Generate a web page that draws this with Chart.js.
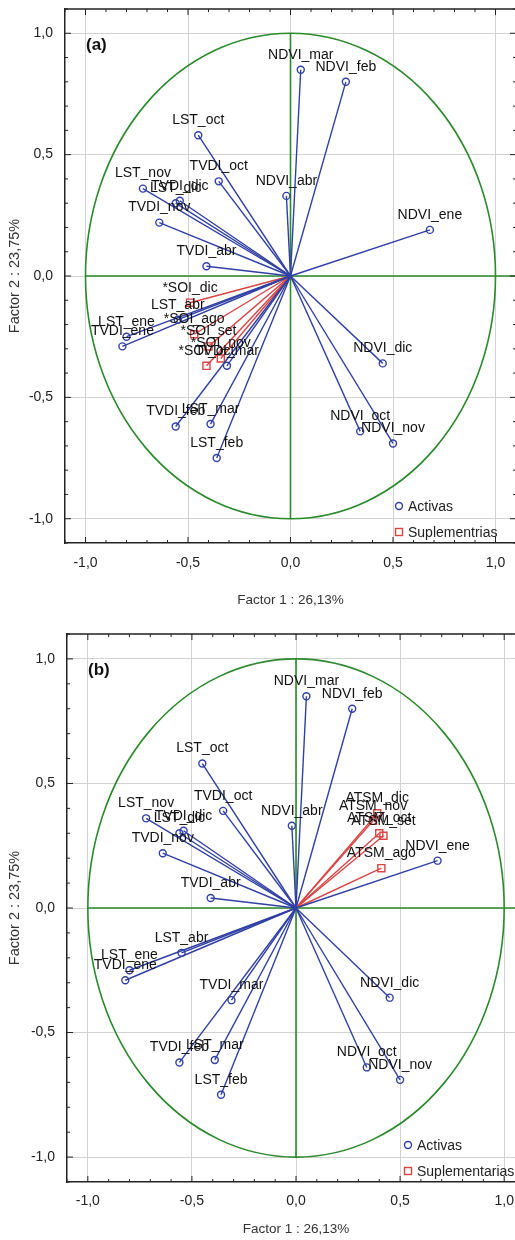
<!DOCTYPE html>
<html>
<head>
<meta charset="utf-8">
<script src="https://cdn.jsdelivr.net/npm/chart.js@4.4.1/dist/chart.umd.min.js"></script>
<style>
  html, body { margin: 0; padding: 0; background: #fff; overflow: hidden; }
  canvas { position: absolute; left: 0; }
  #chartA { top: 0; }
  #chartB { top: 620px; }
</style>
</head>
<body>
<canvas id="chartA" width="520" height="620"></canvas>
<canvas id="chartB" width="530" height="620"></canvas>
<script>
// variables activas (iguales en los dos paneles)
const activeNames = ["NDVI_ene", "NDVI_feb", "NDVI_mar", "NDVI_abr", "NDVI_oct", "NDVI_nov", "NDVI_dic",
  "LST_ene", "LST_feb", "LST_mar", "LST_abr", "LST_oct", "LST_nov", "LST_dic",
  "TVDI_ene", "TVDI_feb", "TVDI_mar", "TVDI_abr", "TVDI_oct", "TVDI_nov", "TVDI_dic"];
const activeF1 = [0.68, 0.27, 0.05, -0.02, 0.34, 0.50, 0.45,
  -0.80, -0.36, -0.39, -0.55, -0.45, -0.72, -0.56,
  -0.82, -0.56, -0.31, -0.41, -0.35, -0.64, -0.54];
const activeF2 = [0.19, 0.80, 0.85, 0.33, -0.64, -0.69, -0.36,
  -0.25, -0.75, -0.61, -0.18, 0.58, 0.36, 0.30,
  -0.29, -0.62, -0.37, 0.04, 0.39, 0.22, 0.31];

// suplementarias panel (a)
const soiNames = ["*SOI_ago", "*SOI_set", "*SOI_oct", "*SOI_nov", "*SOI_dic"];
const soiF1 = [-0.47, -0.40, -0.41, -0.34, -0.49];
const soiF2 = [-0.24, -0.29, -0.37, -0.34, -0.11];

// suplementarias panel (b)
const atsmNames = ["ATSM_ago", "ATSM_set", "ATSM_oct", "ATSM_nov", "ATSM_dic"];
const atsmF1 = [0.41, 0.42, 0.40, 0.37, 0.39];
const atsmF2 = [0.16, 0.29, 0.30, 0.35, 0.38];

const axisTicks = [-1.0, -0.5, 0.0, 0.5, 1.0];
const axisMin = -1.1, axisMax = 1.1;
const circleRadius = 1;
const xTitle = "Factor 1 : 26,13%";
const yTitle = "Factor 2 : 23,75%";

const blue = "#3040a4";
const red = "#d84545";
const green = "#2b8a2b";
const gridColor = "#d2d2d2";
const FONT = "'Liberation Sans', Arial, sans-serif";

function isMajor(v) {
  return axisTicks.some(t => Math.abs(t - v) < 1e-6);
}
function tickText(v) {
  if (!isMajor(v)) return "";
  return (Math.round(v * 10) / 10).toFixed(1).replace(".", ",");
}

function vector(name, x, y, color, style, radius) {
  return {
    labelText: name,
    data: [{ x: 0, y: 0 }, { x: x, y: y }],
    showLine: true,
    borderColor: color,
    borderWidth: 1.4,
    pointRadius: [0, radius],
    pointStyle: style,
    pointBorderColor: color,
    pointBackgroundColor: "rgba(255,255,255,0)",
    pointBorderWidth: 1.4,
  };
}

// circulo, ejes verdes, bordes y marcas interiores
const framePlugin = {
  id: "frame",
  beforeDatasetsDraw(chart) {
    const { ctx, chartArea: a, scales: { x, y } } = chart;
    const cx = x.getPixelForValue(0), cy = y.getPixelForValue(0);
    ctx.save();
    ctx.beginPath();
    ctx.rect(a.left, a.top, a.right - a.left, a.bottom - a.top);
    ctx.clip();
    ctx.strokeStyle = green;
    ctx.lineWidth = 1.6;
    ctx.beginPath();
    ctx.ellipse(cx, cy, x.getPixelForValue(circleRadius) - cx, cy - y.getPixelForValue(circleRadius), 0, 0, Math.PI * 2);
    ctx.stroke();
    ctx.beginPath();
    ctx.moveTo(x.getPixelForValue(-circleRadius), cy);
    ctx.lineTo(a.right, cy);
    ctx.moveTo(cx, y.getPixelForValue(circleRadius));
    ctx.lineTo(cx, y.getPixelForValue(-circleRadius));
    ctx.stroke();
    ctx.restore();
  },
  afterDraw(chart) {
    const { ctx, chartArea: a, scales: { x, y } } = chart;
    ctx.save();
    ctx.strokeStyle = "#222";
    ctx.lineWidth = 1.5;
    ctx.beginPath();
    ctx.moveTo(a.left, a.top); ctx.lineTo(a.right, a.top);
    ctx.moveTo(a.right, a.top); ctx.lineTo(a.right, a.bottom);
    ctx.stroke();
    ctx.lineWidth = 1;
    ctx.beginPath();
    x.ticks.forEach(t => {
      const px = x.getPixelForValue(t.value);
      const len = isMajor(t.value) ? 6 : 3;
      ctx.moveTo(px, a.bottom); ctx.lineTo(px, a.bottom - len);
      ctx.moveTo(px, a.top); ctx.lineTo(px, a.top + len);
    });
    y.ticks.forEach(t => {
      const py = y.getPixelForValue(t.value);
      const len = isMajor(t.value) ? 6 : 3;
      ctx.moveTo(a.left, py); ctx.lineTo(a.left + len, py);
      ctx.moveTo(a.right, py); ctx.lineTo(a.right - len, py);
    });
    ctx.stroke();
    ctx.restore();
  },
};

// nombres de variables, letra del panel y leyenda
const textPlugin = {
  id: "texts",
  afterDatasetsDraw(chart, args, opts) {
    const { ctx, chartArea: a } = chart;
    ctx.save();
    ctx.fillStyle = "#111";
    ctx.font = "14px " + FONT;
    ctx.textAlign = "center";
    ctx.textBaseline = "middle";
    chart.data.datasets.forEach((ds, i) => {
      const el = chart.getDatasetMeta(i).data[1];
      if (el) ctx.fillText(ds.labelText, el.x, el.y - 15);
    });

    ctx.font = "bold 17px " + FONT;
    ctx.textAlign = "left";
    ctx.fillText(opts.panel, a.left + 21, a.top + 36);

    // leyenda
    const lx = a.right - 117;
    ctx.font = "14px " + FONT;
    ctx.lineWidth = 1.4;
    ctx.strokeStyle = blue;
    ctx.beginPath();
    ctx.arc(lx, a.bottom - 37, 3.5, 0, Math.PI * 2);
    ctx.stroke();
    ctx.fillStyle = "#222";
    ctx.fillText("Activas", lx + 9, a.bottom - 36);
    ctx.strokeStyle = red;
    ctx.strokeRect(lx - 3.5, a.bottom - 14.5, 7, 7);
    ctx.fillText(opts.suppLegend, lx + 9, a.bottom - 10);
    ctx.restore();
  },
};

function makeChart(canvasId, suppNames, suppF1, suppF2, panel, suppLegend, box) {
  const datasets = [];
  activeNames.forEach((n, i) => datasets.push(vector(n, activeF1[i], activeF2[i], blue, "circle", 3.5)));
  suppNames.forEach((n, i) => datasets.push(vector(n, suppF1[i], suppF2[i], red, "rect", 5)));

  const tickFont = { family: FONT, size: 14 };

  return new Chart(document.getElementById(canvasId), {
    type: "scatter",
    data: { datasets: datasets },
    plugins: [framePlugin, textPlugin],
    options: {
      responsive: false,
      animation: false,
      events: [],
      layout: { autoPadding: false, padding: { top: box.top, right: box.right, left: 0, bottom: 0 } },
      plugins: {
        legend: { display: false },
        tooltip: { enabled: false },
        texts: { panel: panel, suppLegend: suppLegend },
      },
      scales: {
        x: {
          type: "linear",
          min: axisMin, max: axisMax,
          afterFit: s => { s.height = box.xh; s.paddingLeft = 0; s.paddingRight = 0; },
          ticks: { stepSize: 0.1, autoSkip: false, maxRotation: 0, color: "#222", font: tickFont, padding: box.xpad, callback: tickText },
          grid: { drawTicks: false, color: c => isMajor(c.tick.value) ? gridColor : "rgba(0,0,0,0)", lineWidth: 1 },
          border: { display: true, color: "#222", width: 1.5 },
          title: { display: true, text: xTitle, color: "#333", font: { family: FONT, size: 13.5 }, padding: { top: 0, bottom: box.xtb } },
        },
        y: {
          type: "linear",
          min: axisMin, max: axisMax,
          afterFit: s => { s.width = box.yw; s.paddingTop = 0; s.paddingBottom = 0; },
          ticks: { stepSize: 0.1, autoSkip: false, color: "#222", font: tickFont, padding: 12, callback: tickText },
          grid: { drawTicks: false, color: c => isMajor(c.tick.value) ? gridColor : "rgba(0,0,0,0)", lineWidth: 1 },
          border: { display: true, color: "#222", width: 1.5 },
          title: { display: true, text: yTitle, color: "#333", font: { family: FONT, size: 14.5 }, padding: { top: 6, bottom: 0 } },
        },
      },
    },
  });
}

makeChart("chartA", soiNames, soiF1, soiF2, "(a)", "Suplementrias",
  { top: 9, right: 4, yw: 65, xh: 77, xpad: 12, xtb: 12 });
makeChart("chartB", atsmNames, atsmF1, atsmF2, "(b)", "Suplementarias",
  { top: 14, right: 5, yw: 67, xh: 58, xpad: 11, xtb: 3 });
</script>
</body>
</html>
